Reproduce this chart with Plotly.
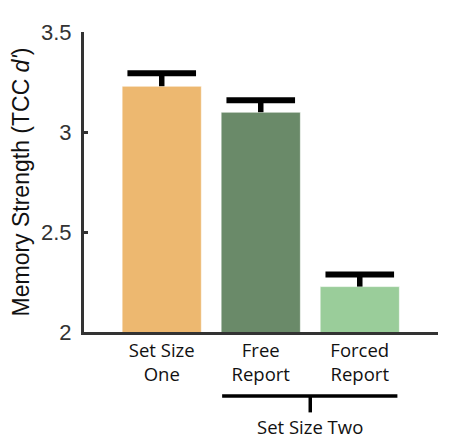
import plotly.graph_objects as go

categories = ["Set Size<br>One", "Free<br>Report", "Forced<br>Report"]
values = [3.229, 3.099, 2.227]
errors = [0.065, 0.060, 0.060]
colors = ["#EDB870", "#6A8A69", "#9ACD9A"]
y_ticks = [2, 2.5, 3, 3.5]
y_tick_labels = ["2", "2.5", "3", "3.5"]
group_label = "Set Size Two"

x_idx = list(range(len(categories)))
err_top = [v + e for v, e in zip(values, errors)]

fig = go.Figure()
fig.add_trace(go.Bar(
    x=x_idx, y=values, width=0.8,
    marker=dict(color=colors, line=dict(color="rgba(255,255,255,0.6)", width=1)),
    error_y=dict(type="data", symmetric=False, array=errors, arrayminus=[0]*len(errors),
                 color="black", thickness=5.5, width=0),
))
# error bar caps
fig.add_trace(go.Scatter(
    x=x_idx, y=err_top, mode="markers",
    marker=dict(symbol="line-ew", size=49, line=dict(color="black", width=6)),
    hoverinfo="skip",
))

fig.update_layout(
    width=452, height=431,
    margin=dict(l=75, r=22, t=17, b=107),
    paper_bgcolor="white", plot_bgcolor="white",
    showlegend=False,
    font=dict(family="Liberation Sans, Arial, sans-serif", color="#222"),
    xaxis=dict(
        range=[-0.785, 2.79], tickmode="array", tickvals=x_idx, ticktext=categories,
        showline=True, linecolor="#333", linewidth=3, ticks="", showgrid=False, zeroline=False,
        tickfont=dict(family="Open Sans, sans-serif", size=18.5, color="#111"),
    ),
    yaxis=dict(
        range=[2, 3.5], tickmode="array", tickvals=y_ticks, ticktext=y_tick_labels,
        showline=True, linecolor="#333", linewidth=3, ticks="inside", ticklen=4, tickwidth=3,
        tickcolor="#333", showgrid=False, zeroline=False, ticklabelstandoff=5,
        tickfont=dict(size=22, color="#333"),
        title=dict(text="Memory Strength (TCC <i>d'</i>)", font=dict(size=23, color="#111"), standoff=5),
    ),
)

# bracket grouping the two set-size-two conditions
fig.add_shape(type="line", xref="x", yref="paper", x0=0.61, x1=2.38, y0=-0.213, y1=-0.213,
              line=dict(color="black", width=3.5))
fig.add_shape(type="line", xref="x", yref="paper", x0=1.5, x1=1.5, y0=-0.213, y1=-0.268,
              line=dict(color="black", width=3.5))
fig.add_annotation(text=group_label, xref="x", yref="paper", x=1.5, y=-0.268, yanchor="top",
                   showarrow=False, font=dict(family="Open Sans, sans-serif", size=18.5, color="#111"))

fig.write_html("out.html")
